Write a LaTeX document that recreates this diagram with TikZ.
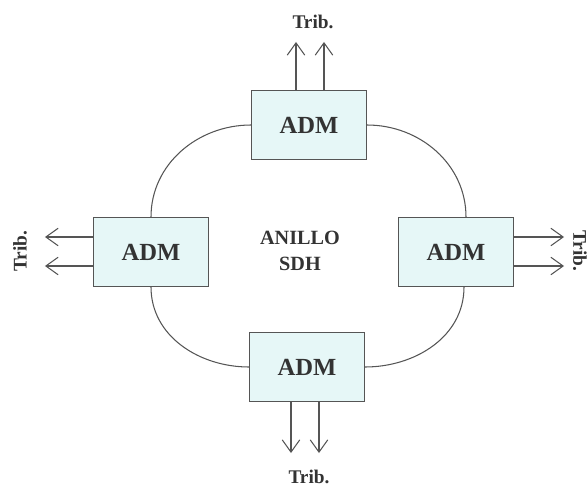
\documentclass[tikz,border=0pt]{standalone}
\usepackage{fontspec}
\setmainfont{Liberation Serif}
\usetikzlibrary{positioning,arrows.meta}

\definecolor{admfill}{HTML}{E6F7F7}
\definecolor{linegray}{HTML}{555555}

\begin{document}
\begin{tikzpicture}[
  x=0.02cm, y=-0.02cm,
  adm/.style={draw=linegray, semithick, fill=admfill,
              minimum width=2.3cm, minimum height=1.38cm,
              font=\fontsize{14}{16}\selectfont\bfseries, text=black!80},
  ring/.style={draw=linegray, semithick},
  trib/.style={-{Straight Barb[length=7pt,width=10pt]}, draw=linegray, semithick},
  lbl/.style={font=\fontsize{11}{13}\selectfont\bfseries, text=black!80}
]
\useasboundingbox (0,0) rectangle (588,490);

% the four add-drop multiplexers
\node[adm] (adm_t) at (309,125) {ADM};
\node[adm] (adm_l) at (151,252) {ADM};
\node[adm] (adm_r) at (456,252) {ADM};
\node[adm] (adm_b) at (307,367) {ADM};

\node[lbl, align=center, font=\fontsize{11.5}{15}\selectfont\bfseries] (ring) at (300,251) {ANILLO\\SDH};

% ring segments
\draw[ring] (adm_t.west)  to[out=180, in=90]  (adm_l.north);
\draw[ring] (adm_l.south) to[out=-90, in=180] (adm_b.west);
\draw[ring] (adm_t.east)  to[out=0,   in=90]  ([xshift=0.2cm]adm_r.north);
\draw[ring] ([xshift=0.16cm]adm_r.south) to[out=-90, in=0] (adm_b.east);

% tributaries
\draw[trib] ([xshift=-0.26cm]adm_t.north) -- ++(0,-48);
\draw[trib] ([xshift=0.30cm]adm_t.north)  -- ++(0,-48);
\node[lbl] (trib_t) at (313,22) {Trib.};

\draw[trib] ([yshift=0.30cm]adm_l.west)  -- ++(-48,0);
\draw[trib] ([yshift=-0.28cm]adm_l.west) -- ++(-48,0);
\node[lbl, rotate=90] (trib_l) at (20,251) {Trib.};

\draw[trib] ([yshift=0.30cm]adm_r.east)  -- ++(50,0);
\draw[trib] ([yshift=-0.28cm]adm_r.east) -- ++(50,0);
\node[lbl, rotate=-90] (trib_r) at (580,251) {Trib.};

\draw[trib] ([xshift=-0.32cm]adm_b.south) -- ++(0,51);
\draw[trib] ([xshift=0.24cm]adm_b.south)  -- ++(0,51);
\node[lbl] (trib_b) at (309,477) {Trib.};

\end{tikzpicture}
\end{document}
